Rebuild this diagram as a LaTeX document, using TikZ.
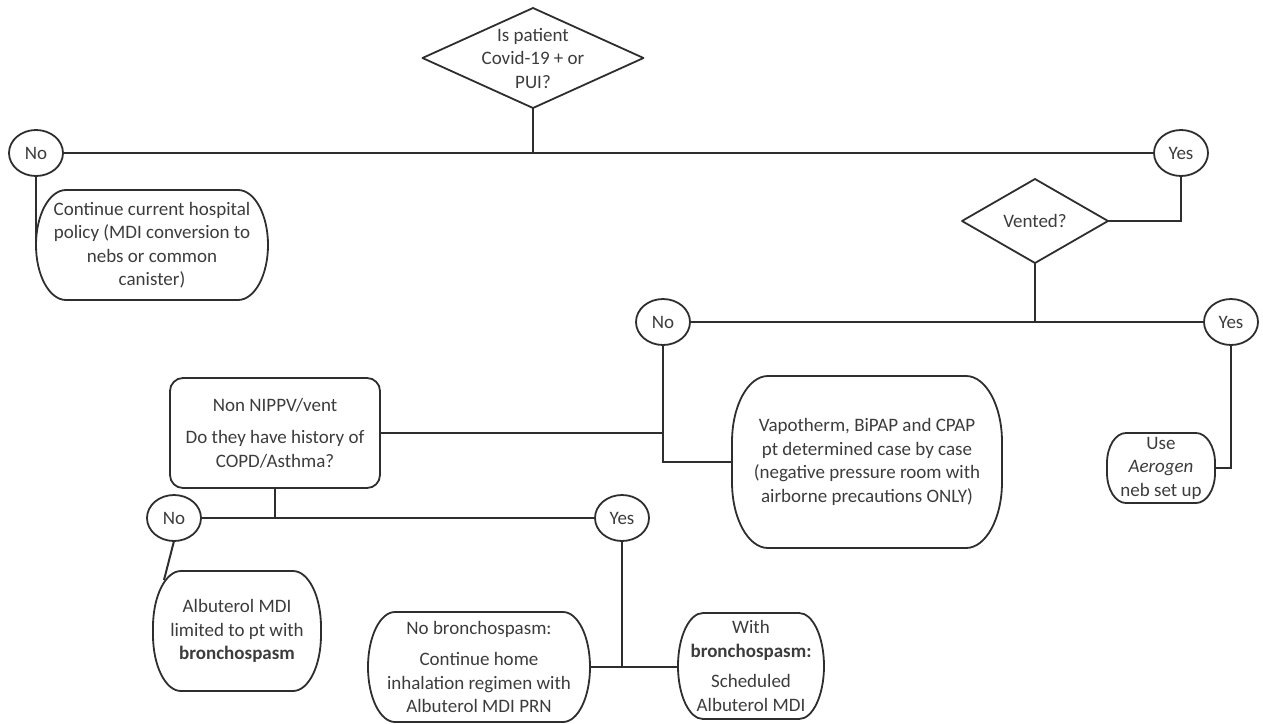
\documentclass[tikz,border=0pt]{standalone}
\usepackage{fontspec}
\setmainfont{Carlito}
\usetikzlibrary{shapes.geometric}
\definecolor{ln}{HTML}{2E2E2E}
\definecolor{tx}{HTML}{3C3C3C}
\tikzset{
  base/.style={font=\fontsize{19}{23.5}\selectfont, text=tx, align=center, inner sep=0pt, outer sep=0pt},
  ans/.style={base, ellipse, draw=ln, line width=1.8pt, minimum width=54pt, minimum height=46pt},
  area/.style={base, rectangle, draw=none},
  conn/.style={draw=ln, line width=2pt},
  outline/.style={draw=ln, line width=1.8pt, line join=round},
  rbox/.style={base, rectangle, rounded corners=13pt, draw=ln, line width=1.8pt}
}
\newcommand\pillpath[3]{\draw[outline] ([xshift=#2pt]#1.north west) -- ([xshift=-#2pt]#1.north east)
  arc[start angle=90,end angle=0,x radius=#2pt,y radius=#3pt] -- ([yshift=#3pt]#1.south east)
  arc[start angle=0,end angle=-90,x radius=#2pt,y radius=#3pt] -- ([xshift=#2pt]#1.south west)
  arc[start angle=270,end angle=180,x radius=#2pt,y radius=#3pt] -- ([yshift=-#3pt]#1.north west)
  arc[start angle=180,end angle=90,x radius=#2pt,y radius=#3pt] -- cycle;}
\newcommand\diamondpath[1]{\draw[outline] (#1.north) -- (#1.east) -- (#1.south) -- (#1.west) -- cycle;}
\begin{document}
\begin{tikzpicture}[x=1pt,y=-1pt]
\useasboundingbox (0,0) rectangle (1263,723);
% top decision
\node[area, minimum width=221pt, minimum height=100pt] (d1) at (533,58) {Is patient\\Covid-19 + or\\PUI?};
\diamondpath{d1}
\node[ans] (no1) at (36,153) {No};
\node[ans] (yes1) at (1181,153) {Yes};
\node[area, minimum width=232pt, minimum height=110pt] (b1) at (152,245) {Continue current hospital\\policy (MDI conversion to\\nebs or common\\canister)};
\pillpath{b1}{30}{55}
% vented
\node[area, minimum width=146pt, minimum height=84pt] (d2) at (1035,221) {Vented?};
\diamondpath{d2}
\node[ans] (no2) at (663,322) {No};
\node[ans] (yes2) at (1231,322) {Yes};
\node[area, minimum width=270pt, minimum height=172pt] (vp) at (867,462) {Vapotherm, BiPAP and CPAP\\pt determined case by case\\(negative pressure room with\\airborne precautions ONLY)};
\pillpath{vp}{36}{66}
\node[area, minimum width=108pt, minimum height=70pt] (ae) at (1161,468) {Use\\\textit{Aerogen}\\neb set up};
\pillpath{ae}{19}{30}
% non NIPPV
\node[rbox, minimum width=210pt, minimum height=110pt] (nn) at (275,433) {Non NIPPV/vent\\[9pt]Do they have history of\\COPD/Asthma?};
\node[ans] (no3) at (174,518) {No};
\node[ans] (yes3) at (622,518) {Yes};
\node[area, minimum width=168pt, minimum height=120pt] (al) at (237,631) {Albuterol MDI\\limited to pt with\\\textbf{bronchospasm}};
\pillpath{al}{28}{56}
\node[area, minimum width=222pt, minimum height=110pt] (nb) at (479,667) {No bronchospasm:\\[8pt]Continue home\\inhalation regimen with\\Albuterol MDI PRN};
\pillpath{nb}{27}{55}
\node[area, minimum width=146pt, minimum height=106pt] (wb) at (751,666) {With\\\textbf{bronchospasm:}\\[7pt]Scheduled\\Albuterol MDI};
\pillpath{wb}{25}{53}
% connectors
\draw[conn] (no1) -- (yes1);
\draw[conn] (d1.south) -- (d1.south |- no1.east);
\draw[conn] (no1.south) -- (b1.west);
\draw[conn] (yes1.south) |- (d2.east);
\draw[conn] (d2.south) -- (d2.south |- no2.east);
\draw[conn] (no2) -- (yes2);
\draw[conn] (yes2.south) |- (ae.east);
\draw[conn] (no2.south) |- (vp.west);
\draw[conn] (nn.east) -- (nn.east -| no2.south);
\draw[conn] (nn.south) -- (nn.south |- no3.east);
\draw[conn] (no3) -- (yes3);
\draw[conn] (no3.south) -- ([xshift=11pt,yshift=-9pt]al.north west);
\draw[conn] (yes3.south) -- (yes3.south |- nb.east);
\draw[conn] (nb.east) -- (nb.east -| wb.west);
\end{tikzpicture}
\end{document}
